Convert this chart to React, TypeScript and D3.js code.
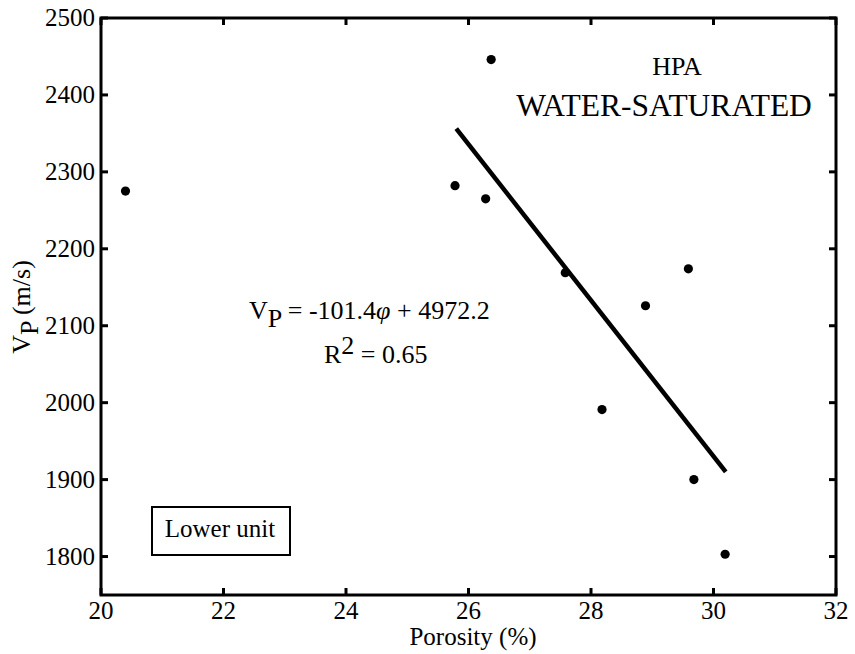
import React from "react";
import * as d3 from "d3";

const porosity = [20.4, 25.78, 26.28, 26.37, 27.58, 28.18, 28.89, 29.59, 29.68, 30.19];
const velocity = [2275, 2282, 2265, 2446, 2169, 1991, 2126, 2174, 1900, 1803];
const xTicks = [20, 22, 24, 26, 28, 30, 32];
const yTicks = [1800, 1900, 2000, 2100, 2200, 2300, 2400, 2500];
const fitSlope = -101.4;
const fitIntercept = 4972.2;
const fitRange = [25.8, 30.2];

const W = 855;
const H = 654;
const left = 101;
const right = 836;
const top = 18;
const bottom = 595;
const FONT = "Liberation Serif, Times New Roman, DejaVu Serif, serif";
const ts = { fontFamily: FONT };

export default function App() {
  const x = d3.scaleLinear().domain([20, 32]).range([left, right]);
  const y = d3.scaleLinear().domain([1750, 2500]).range([bottom, top]);
  const line = d3
    .line<number>()
    .x((d) => x(d))
    .y((d) => y(fitSlope * d + fitIntercept));
  const tickLen = 7;
  const sw = 3;
  return (
    <svg
      width={W}
      height={H}
      style={{ position: "absolute", left: 0, top: 0, background: "#fff", fontFamily: FONT }}
    >
      <rect x={0} y={0} width={W} height={H} fill="#fff" />
      {xTicks.map((t) => (
        <g key={"xt" + t}>
          <line x1={x(t)} x2={x(t)} y1={bottom} y2={bottom - tickLen} stroke="#000" strokeWidth={sw} />
          <line x1={x(t)} x2={x(t)} y1={top} y2={top + tickLen} stroke="#000" strokeWidth={sw} />
          <text style={ts} x={x(t)} y={619} fontSize={25} textAnchor="middle" fill="#000">
            {t}
          </text>
        </g>
      ))}
      {yTicks.map((t) => (
        <g key={"yt" + t}>
          <line x1={left} x2={left + tickLen} y1={y(t)} y2={y(t)} stroke="#000" strokeWidth={sw} />
          <line x1={right} x2={right - tickLen} y1={y(t)} y2={y(t)} stroke="#000" strokeWidth={sw} />
          <text style={ts} x={95} y={y(t) + 8} fontSize={25} textAnchor="end" fill="#000">
            {t}
          </text>
        </g>
      ))}
      <rect
        x={left}
        y={top}
        width={right - left}
        height={bottom - top}
        fill="none"
        stroke="#000"
        strokeWidth={sw}
      />
      <path d={line(fitRange) || ""} fill="none" stroke="#000" strokeWidth={4.5} />
      {porosity.map((p, i) => (
        <circle key={"pt" + i} cx={x(p)} cy={y(velocity[i])} r={4.6} fill="#000" />
      ))}
      <text style={ts} x={677} y={75} fontSize={26} textAnchor="middle" fill="#000">
        HPA
      </text>
      <text style={ts} x={664} y={116} fontSize={31.5} textAnchor="middle" fill="#000">
        WATER-SATURATED
      </text>
      <text style={ts} x={249} y={319} fontSize={26} textAnchor="start" fill="#000">
        V<tspan dy={8}>P</tspan>
        <tspan dy={-8}> = -101.4</tspan>
        <tspan fontStyle="italic">φ</tspan>
        <tspan> + 4972.2</tspan>
      </text>
      <text style={ts} x={324} y={363} fontSize={26} textAnchor="start" fill="#000">
        R<tspan dy={-9}>2</tspan>
        <tspan dy={9}> = 0.65</tspan>
      </text>
      <rect x={152} y={507} width={138} height={48} fill="none" stroke="#000" strokeWidth={2} />
      <text style={ts} x={220} y={537} fontSize={25} textAnchor="middle" fill="#000">
        Lower unit
      </text>
      <text style={ts} x={473} y={645} fontSize={25} textAnchor="middle" fill="#000">
        Porosity (%)
      </text>
      <text
        style={ts}
        transform={`translate(30, 307) rotate(-90)`}
        fontSize={26}
        textAnchor="middle"
        fill="#000"
      >
        V<tspan dy={8}>P</tspan>
        <tspan dy={-8}> (m/s)</tspan>
      </text>
    </svg>
  );
}
